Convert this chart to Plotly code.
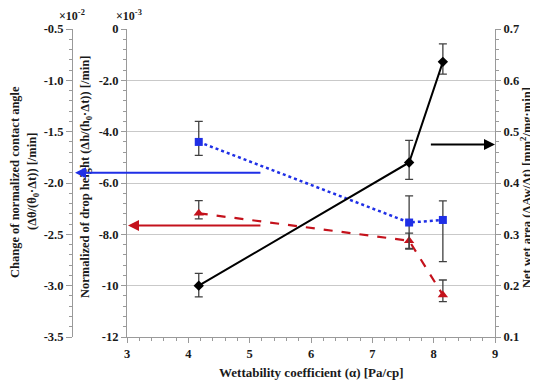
import plotly.graph_objects as go

# ---------------- data ----------------
x_vals = [4.17, 7.6, 8.15]

# change of normalized contact angle (x10^-2 /min) -> outer left axis
angle_vals = [-1.60, -2.385, -2.36]
angle_err_plus = [0.20, 0.26, 0.185]
angle_err_minus = [0.13, 0.26, 0.405]

# normalized drop height (x10^-3 /min) -> inner left axis
height_vals = [-7.18, -8.25, -10.36]
height_err_plus = [0.49, 0.30, 0.58]
height_err_minus = [0.22, 0.30, 0.26]

# net wet area (mm^2/mg.min) -> right axis
area_vals = [0.200, 0.440, 0.636]
area_err_plus = [0.024, 0.043, 0.035]
area_err_minus = [0.022, 0.033, 0.024]

x_ticks = [3, 4, 5, 6, 7, 8, 9]
x_ticktext = ["3", "4", "5", "6", "7", "8", "9"]
angle_ticks = [-0.5, -1.0, -1.5, -2.0, -2.5, -3.0, -3.5]
angle_ticktext = ["-0.5", "-1.0", "-1.5", "-2.0", "-2.5", "-3.0", "-3.5"]
height_ticks = [0, -2, -4, -6, -8, -10, -12]
height_ticktext = ["0", "-2.0", "-4.0", "-6.0", "-8.0", "-10", "-12"]
area_ticks = [0.1, 0.2, 0.3, 0.4, 0.5, 0.6, 0.7]
area_ticktext = ["0.1", "0.2", "0.3", "0.4", "0.5", "0.6", "0.7"]

# arrows (axis value, x start in data units)
arrow_angle_y = -1.9
arrow_height_y = -7.66
arrow_area_y = 0.475
arrow_left_start_x = 5.2
arrow_right_start_x = 7.93

# ---------------- layout ----------------
WIN_W, WIN_H = 538, 383
OFF = 8  # default page body margin
W, H = WIN_W - OFF, WIN_H - OFF


def px(x):  # window pixel -> paper x
    return (x - OFF) / W


def py(y):  # window pixel -> paper y
    return 1 - (y - OFF) / H


def bold(labels):
    return ["<b>%s</b>" % t for t in labels]


XD = [px(127), px(495)]
YD = [py(337), py(29)]
X_RANGE = [3, 9]
FONT = "Liberation Serif"
BLUE = "#1f2fe6"
RED = "#c4121c"
ERR = "#404040"
AXC = "#9a9a9a"
TXT = "#1a1a1a"


def xpaper(v):
    return XD[0] + (v - X_RANGE[0]) / (X_RANGE[1] - X_RANGE[0]) * (XD[1] - XD[0])


fig = go.Figure()

fig.add_trace(go.Scatter(
    x=x_vals, y=height_vals, yaxis="y", mode="lines+markers",
    line=dict(color=RED, width=2.2, dash="dash"),
    marker=dict(symbol="triangle-up", size=9, color=RED),
    error_y=dict(type="data", symmetric=False, array=height_err_plus,
                 arrayminus=height_err_minus, color=ERR, thickness=1.3, width=4),
    cliponaxis=False,
))
fig.add_trace(go.Scatter(
    x=x_vals, y=angle_vals, yaxis="y2", mode="lines+markers",
    line=dict(color=BLUE, width=2.5, dash="dot"),
    marker=dict(symbol="square", size=8, color=BLUE),
    error_y=dict(type="data", symmetric=False, array=angle_err_plus,
                 arrayminus=angle_err_minus, color=ERR, thickness=1.3, width=4),
    cliponaxis=False,
))
fig.add_trace(go.Scatter(
    x=x_vals, y=area_vals, yaxis="y3", mode="lines+markers",
    line=dict(color="black", width=2),
    marker=dict(symbol="diamond", size=8, color="black"),
    error_y=dict(type="data", symmetric=False, array=area_err_plus,
                 arrayminus=area_err_minus, color=ERR, thickness=1.3, width=4),
    cliponaxis=False,
))

tickfont = dict(family=FONT, size=12.5, color=TXT)

fig.update_layout(
    template="none",
    font=dict(family=FONT, color=TXT),
    width=W, height=H, autosize=False,
    margin=dict(l=0, r=0, t=0, b=0, pad=0),
    paper_bgcolor="white", plot_bgcolor="white",
    showlegend=False,
    xaxis=dict(domain=XD, range=X_RANGE, tickvals=x_ticks, ticktext=bold(x_ticktext),
               automargin=False,
               showline=True, linecolor=AXC, linewidth=1, showgrid=False,
               zeroline=False, ticks="outside", ticklen=5, tickcolor=AXC,
               minor=dict(ticks="outside", ticklen=3, dtick=0.2, tickcolor=AXC),
               tickfont=tickfont),
    yaxis=dict(domain=YD, range=[-12, 0], tickvals=height_ticks, automargin=False,
               ticktext=bold(height_ticktext), showline=True, linecolor=AXC,
               showgrid=True, gridcolor="#c9c9c9", gridwidth=1, zeroline=False,
               ticks="outside", ticklen=5, tickcolor=AXC,
               minor=dict(ticks="outside", ticklen=3, dtick=0.4, tickcolor=AXC),
               tickfont=tickfont, anchor="x"),
    yaxis2=dict(range=[-3.5, -0.5], tickvals=angle_ticks, ticktext=bold(angle_ticktext),
                overlaying="y", side="left", anchor="free", position=px(72),
                automargin=False,
                showline=True, linecolor=AXC, showgrid=False, zeroline=False,
                ticks="outside", ticklen=6, tickcolor=AXC,
                minor=dict(ticks="outside", ticklen=3, dtick=0.1, tickcolor=AXC),
                tickfont=tickfont),
    yaxis3=dict(range=[0.1, 0.7], tickvals=area_ticks, ticktext=bold(area_ticktext),
                overlaying="y", side="right", anchor="x", automargin=False,
                showline=True, linecolor=AXC, showgrid=False, zeroline=False,
                ticks="outside", ticklen=5, tickcolor=AXC,
                minor=dict(ticks="outside", ticklen=3, dtick=0.02, tickcolor=AXC),
                tickfont=tickfont),
)

tfont = dict(family=FONT, size=12.5, color=TXT)


def label(text, x, y, angle=0, font=tfont):
    return dict(text=text, xref="paper", yref="paper", x=px(x), y=py(y),
                xanchor="center", yanchor="middle", textangle=angle,
                showarrow=False, font=font)


ann = [
    label("<b>Wettability coefficient (α) [Pa/cp]</b>", 311, 372,
          font=dict(family=FONT, size=13, color=TXT)),
    label("<b>Change of normalized contact angle</b>", 15, 182, -90),
    label("<b>(Δθ/(θ<sub>0</sub>·Δt)) [/min]</b>", 33, 182, -90),
    label("<b>Normalized of drop height (Δh/(h<sub>0</sub>·Δt)) [/min]</b>", 86, 177, -90),
    label("<b>Net wet area (ΔAw/Δt) [mm<sup>2</sup>/mg·min]</b>", 526, 188, -90),
    label("<b>×10<sup>-2</sup></b>", 72, 15, font=dict(family=FONT, size=12, color=TXT)),
    label("<b>×10<sup>-3</sup></b>", 129, 15, font=dict(family=FONT, size=12, color=TXT)),
]

# arrows
ann.append(dict(x=px(75), y=arrow_angle_y, xref="paper", yref="y2",
                ax=(xpaper(arrow_left_start_x) - px(75)) * W, ay=0, axref="pixel", ayref="pixel",
                showarrow=True, arrowhead=2, arrowsize=1.1, arrowwidth=2, arrowcolor=BLUE, text=""))
ann.append(dict(x=XD[0] + 1 / W, y=arrow_height_y, xref="paper", yref="y",
                ax=(xpaper(arrow_left_start_x) - XD[0] - 1 / W) * W, ay=0, axref="pixel", ayref="pixel",
                showarrow=True, arrowhead=2, arrowsize=1.1, arrowwidth=2, arrowcolor=RED, text=""))
ann.append(dict(x=XD[1], y=arrow_area_y, xref="paper", yref="y3",
                ax=(xpaper(arrow_right_start_x) - XD[1]) * W, ay=0, axref="pixel", ayref="pixel",
                showarrow=True, arrowhead=2, arrowsize=1.1, arrowwidth=2, arrowcolor="black", text=""))

fig.update_layout(annotations=ann)
fig.write_html("out.html")
